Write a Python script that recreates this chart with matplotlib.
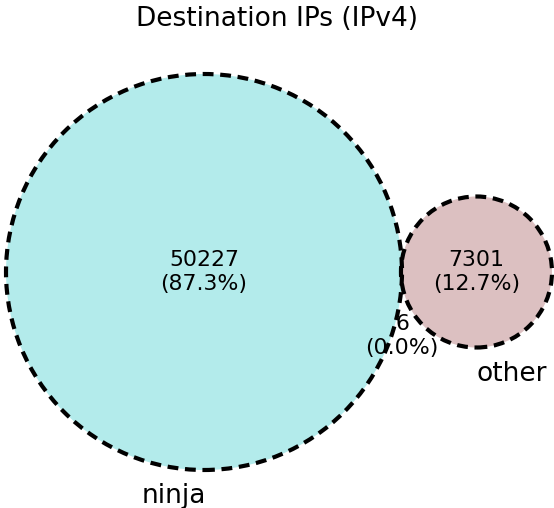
import numpy as np
import matplotlib
matplotlib.use("Agg")
import matplotlib.pyplot as plt
from matplotlib.patches import Circle

# Data
set_labels = ["ninja", "other"]
only_counts = [50227, 7301]   # only ninja, only other
both_count = 6
title = "Destination IPs (IPv4)"
fill_colors = ["#b3ebeb", "#dcc0c1"]
overlap_color = "#7070ff"

total = sum(only_counts) + both_count
areas = [only_counts[0] + both_count, only_counts[1] + both_count]
radii = [np.sqrt(a / np.pi) for a in areas]

def lens_area(d, r1, r2):
    if d >= r1 + r2:
        return 0.0
    a1 = r1**2 * np.arccos((d**2 + r1**2 - r2**2) / (2 * d * r1))
    a2 = r2**2 * np.arccos((d**2 + r2**2 - r1**2) / (2 * d * r2))
    a3 = 0.5 * np.sqrt((-d + r1 + r2) * (d + r1 - r2) * (d - r1 + r2) * (d + r1 + r2))
    return a1 + a2 - a3

lo, hi = abs(radii[0] - radii[1]), radii[0] + radii[1]
for _ in range(200):
    mid = (lo + hi) / 2
    if lens_area(mid, *radii) > both_count:
        lo = mid
    else:
        hi = mid
dist = (lo + hi) / 2
centers = [(0.0, 0.0), (dist, 0.0)]

W, H = 554, 508
fig = plt.figure(figsize=(W / 100, H / 100), dpi=100)
ax = fig.add_axes([0, 0, 1, 1])
s = 198.0 / radii[0]  # px per data unit
cx_px, cy_px = 204, 272
ax.set_xlim(-cx_px / s, (W - cx_px) / s)
ax.set_ylim(-(H - cy_px) / s, cy_px / s)
ax.axis("off")

def P(px, py):
    return ((px - cx_px) / s, (cy_px - py) / s)

fills = []
for c, r, col in zip(centers, radii, fill_colors):
    p = Circle(c, r, facecolor=col, edgecolor="none", zorder=1)
    ax.add_patch(p)
    fills.append(p)
ov = Circle(centers[1], radii[1], facecolor=overlap_color, edgecolor="none", zorder=2)
ax.add_patch(ov)
ov.set_clip_path(fills[0])
for c, r in zip(centers, radii):
    ax.add_patch(Circle(c, r, facecolor="none", edgecolor="black",
                        linestyle=(0, (2.6, 1.6)), linewidth=3, zorder=3))

fs = 15.8
def lab(n):
    return f"{n}\n({100 * n / total:.1f}%)"

ax.text(centers[0][0], centers[0][1], lab(only_counts[0]), ha="center", va="center", fontsize=fs, zorder=4)
ax.text(centers[1][0], centers[1][1], lab(only_counts[1]), ha="center", va="center", fontsize=fs, zorder=4)
x6, y6 = P(402, 336)
ax.text(x6, y6, lab(both_count), ha="center", va="center", fontsize=fs, zorder=4)

x, y = P(174, 483)
ax.text(x, y, set_labels[0], ha="center", va="top", fontsize=19)
x, y = P(512, 361)
ax.text(x, y, set_labels[1], ha="center", va="top", fontsize=19)

fig.text(0.5, 1 - 19 / H, title, ha="center", va="center", fontsize=19)
fig.savefig("out.png", dpi=100)
